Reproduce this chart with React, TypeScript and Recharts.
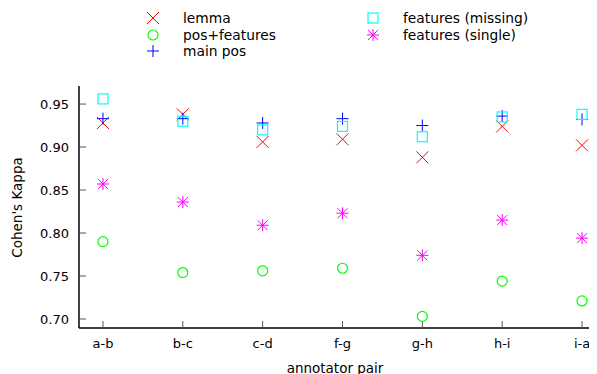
import React from 'react';
import { ScatterChart, Scatter, XAxis, YAxis } from 'recharts';

const categories = ['a-b', 'b-c', 'c-d', 'f-g', 'g-h', 'h-i', 'i-a'];
const lemma = [0.928, 0.938, 0.906, 0.909, 0.888, 0.924, 0.902];
const posFeatures = [0.790, 0.754, 0.756, 0.759, 0.703, 0.744, 0.721];
const mainPos = [0.933, 0.933, 0.928, 0.933, 0.925, 0.936, 0.932];
const featuresMissing = [0.956, 0.930, 0.920, 0.924, 0.912, 0.935, 0.938];
const featuresSingle = [0.857, 0.836, 0.809, 0.823, 0.774, 0.815, 0.794];
const yTicks = [0.7, 0.75, 0.8, 0.85, 0.9, 0.95];
const xTicks = [0, 1, 2, 3, 4, 5, 6];

const toPoints = (vals: number[]) => vals.map((y, i) => ({ x: i, y }));

const FONT = "'DejaVu Sans', sans-serif";

type MP = { cx?: number; cy?: number };

const Cross = ({ cx = 0, cy = 0 }: MP) => (
  <path d={`M${cx - 6},${cy - 6}L${cx + 6},${cy + 6}M${cx - 6},${cy + 6}L${cx + 6},${cy - 6}`} stroke="#ff0000" strokeWidth={1} fill="none" />
);
const Circ = ({ cx = 0, cy = 0 }: MP) => (
  <circle cx={cx} cy={cy} r={5} stroke="#00ff00" strokeWidth={1.2} fill="none" />
);
const Plus = ({ cx = 0, cy = 0 }: MP) => (
  <path d={`M${cx - 6},${cy}L${cx + 6},${cy}M${cx},${cy - 6}L${cx},${cy + 6}`} stroke="#0000ff" strokeWidth={1} fill="none" />
);
const Sq = ({ cx = 0, cy = 0 }: MP) => (
  <rect x={cx - 5} y={cy - 5} width={10} height={10} stroke="#00ffff" strokeWidth={1.2} fill="none" />
);
const Star = ({ cx = 0, cy = 0 }: MP) => (
  <path d={`M${cx - 6},${cy}L${cx + 6},${cy}M${cx},${cy - 6}L${cx},${cy + 6}M${cx - 5},${cy - 5}L${cx + 5},${cy + 5}M${cx - 5},${cy + 5}L${cx + 5},${cy - 5}`} stroke="#ff00ff" strokeWidth={1} fill="none" />
);

const series = [
  { name: 'lemma', data: lemma, Shape: Cross },
  { name: 'pos+features', data: posFeatures, Shape: Circ },
  { name: 'main pos', data: mainPos, Shape: Plus },
  { name: 'features (missing)', data: featuresMissing, Shape: Sq },
  { name: 'features (single)', data: featuresSingle, Shape: Star },
];

const legendPos = [
  { col: 0, row: 0 },
  { col: 0, row: 1 },
  { col: 0, row: 2 },
  { col: 1, row: 0 },
  { col: 1, row: 1 },
];

const YLabel = () => (
  <text x={14} y={199.5} transform="rotate(-90, 14, 199.5)" textAnchor="middle" fontFamily={FONT} fontSize={13.5} fill="#000">
    Cohen's Kappa
  </text>
);

export default function App() {
  return (
    <div style={{ position: 'relative', width: 589, height: 366, overflow: 'hidden', background: '#fff' }}>
      <ScatterChart width={610} height={366} margin={{ top: 78, right: 12, bottom: 0, left: 0 }}>
        <XAxis
          xAxisId="top"
          orientation="top"
          type="number"
          dataKey="x"
          domain={[-0.3, 6.3]}
          ticks={xTicks}
          height={0}
          tickSize={-7}
          tickFormatter={() => ''}
          axisLine={{ stroke: '#000', strokeWidth: 1.5 }}
          tickLine={{ stroke: '#555' }}
          allowDataOverflow
        />
        <XAxis
          xAxisId="bottom"
          type="number"
          dataKey="x"
          domain={[-0.3, 6.3]}
          ticks={xTicks}
          height={46}
          tickSize={-7}
          tickMargin={18}
          tickFormatter={(v: number) => categories[v] ?? ''}
          tick={{ fill: '#000', fontFamily: FONT, fontSize: 13 }}
          axisLine={{ stroke: '#000', strokeWidth: 1.5 }}
          tickLine={{ stroke: '#555' }}
          allowDataOverflow
          label={{ value: 'annotator pair', position: 'insideBottom', offset: 1, dx: -7.5, fill: '#000', fontFamily: FONT, fontSize: 13.5 }}
        />
        <YAxis
          type="number"
          dataKey="y"
          domain={[0.6895, 0.971]}
          ticks={yTicks}
          width={71}
          tickSize={-7}
          tickMargin={17}
          tickFormatter={(v: number) => v.toFixed(2)}
          tick={{ fill: '#000', fontFamily: FONT, fontSize: 13 }}
          axisLine={{ stroke: '#000', strokeWidth: 1.5 }}
          tickLine={{ stroke: '#555' }}
          allowDataOverflow
          label={<YLabel />}
        />
        {series.map((s) => (
          <Scatter
            key={s.name}
            name={s.name}
            xAxisId="bottom"
            data={toPoints(s.data)}
            shape={(p: any) => <s.Shape cx={p.cx} cy={p.cy} />}
            isAnimationActive={false}
          />
        ))}
      </ScatterChart>
      {series.map((s, i) => {
        const { col, row } = legendPos[i];
        const sx = col === 0 ? 145 : 365;
        const tx = col === 0 ? 175 : 395;
        const cy = 10 + row * 16.5;
        return (
          <React.Fragment key={s.name}>
            <svg style={{ position: 'absolute', left: sx - 8, top: cy - 8 }} width={16} height={16}>
              <s.Shape cx={8} cy={8} />
            </svg>
            <div
              style={{
                position: 'absolute',
                left: tx,
                top: cy - 7.6,
                fontFamily: FONT,
                fontSize: 13.8,
                lineHeight: '16px',
                color: '#000',
                whiteSpace: 'nowrap',
              }}
            >
              {s.name}
            </div>
          </React.Fragment>
        );
      })}
    </div>
  );
}
